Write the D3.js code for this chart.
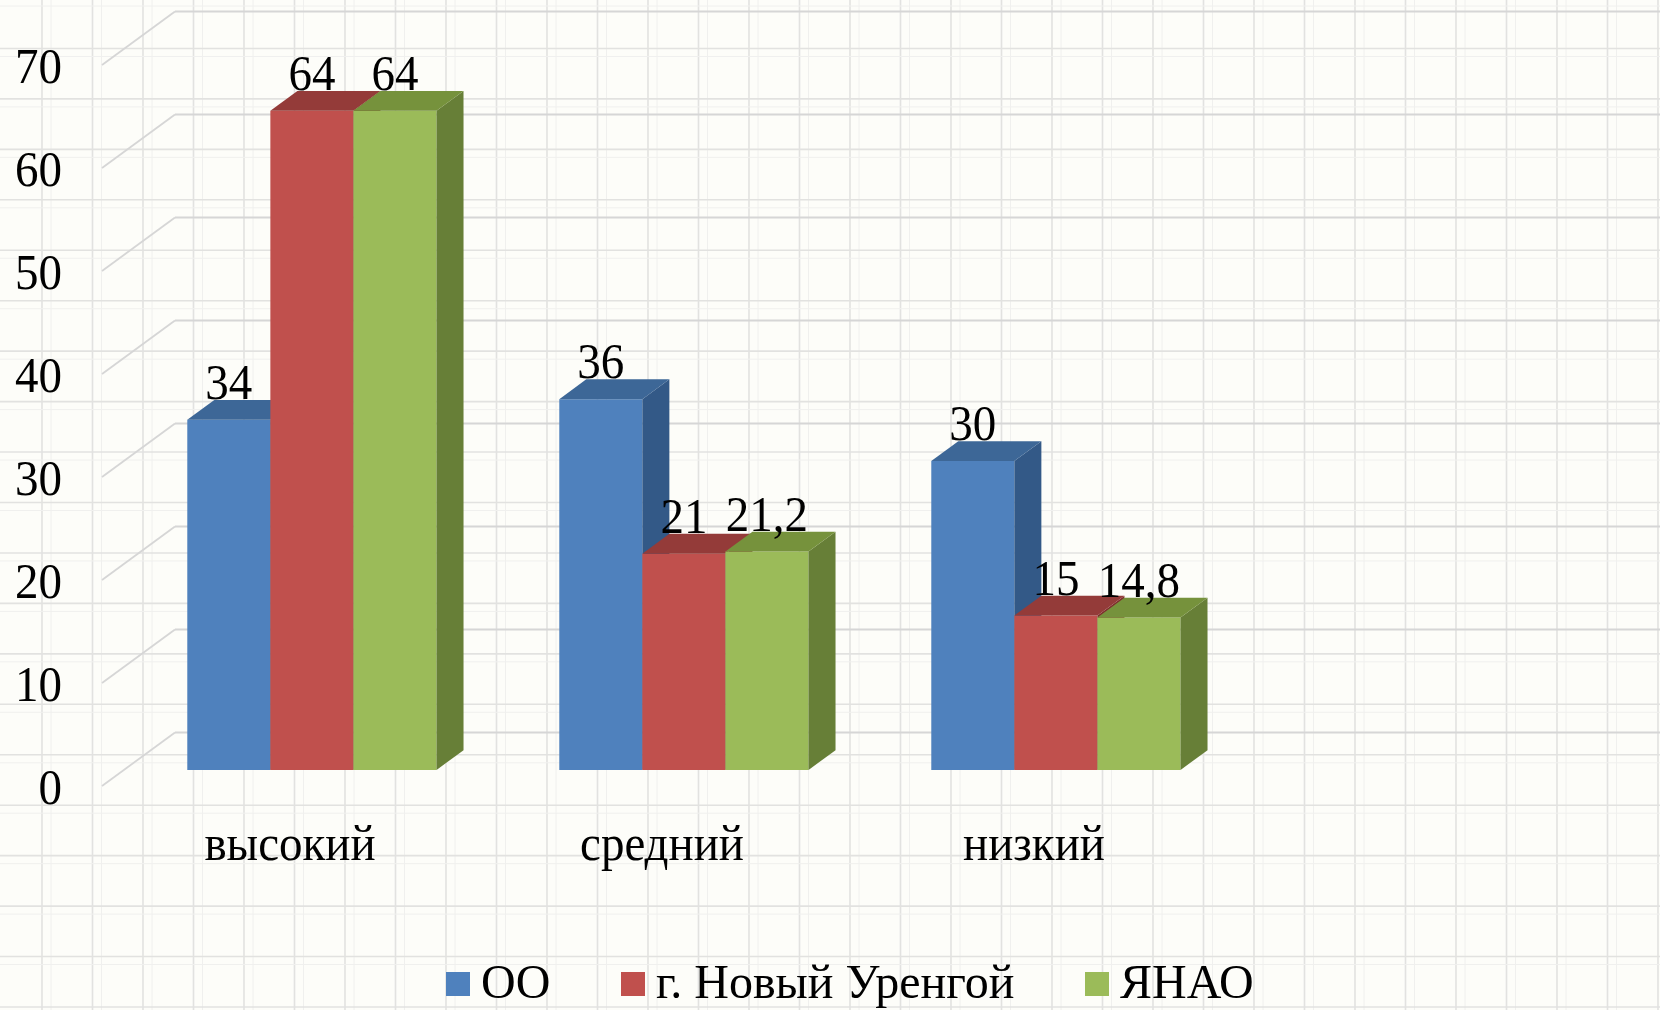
<!DOCTYPE html>
<html>
<head>
<meta charset="utf-8">
<script src="https://d3js.org/d3.v7.min.js"></script>
<style>
  body { margin: 0; background: #fdfdf9; }
  svg { display: block; }
  .lbl { font-family: "Liberation Serif", "Times New Roman", serif; font-size: 47px; fill: #000; }
  .leg { font-family: "Liberation Serif", "Times New Roman", serif; font-size: 48px; fill: #000; }
</style>
</head>
<body>
<script>
// data
var categories = ["высокий", "средний", "низкий"];
var seriesNames = ["ОО", "г. Новый Уренгой", "ЯНАО"];
var valuesOO = [34, 36, 30];
var valuesCity = [64, 21, 15];
var valuesYNAO = [64, 21.2, 14.8];
var yTicks = [0, 10, 20, 30, 40, 50, 60, 70];

var seriesValues = [valuesOO, valuesCity, valuesYNAO];
var frontColors = ["#4f81bd", "#c0504d", "#9bbb59"];
var topColors = ["#3d6797", "#943b39", "#76923c"];
var sideColors = ["#335987", "#7e2f2d", "#677f37"];

var W = 1660, H = 1010;
var svg = d3.select("body").append("svg")
  .attr("width", W)
  .attr("height", H);

svg.append("rect").attr("width", W).attr("height", H).attr("fill", "#fdfdf9");

// graph paper background
var bg = svg.append("g");
d3.range(42, W, 50.5).forEach(function(x) {
  bg.append("line").attr("x1", x).attr("x2", x).attr("y1", 0).attr("y2", H)
    .attr("stroke", "#e2e2e0").attr("stroke-width", 1.6);
  bg.append("line").attr("x1", x + 9).attr("x2", x + 9).attr("y1", 0).attr("y2", H)
    .attr("stroke", "#f0f0ee").attr("stroke-width", 1);
});
d3.range(-2, H + 2, 50.45).forEach(function(y) {
  bg.append("line").attr("x1", 0).attr("x2", W).attr("y1", y).attr("y2", y)
    .attr("stroke", "#e2e2e0").attr("stroke-width", 1.6);
  bg.append("line").attr("x1", 0).attr("x2", W).attr("y1", y + 8).attr("y2", y + 8)
    .attr("stroke", "#f0f0ee").attr("stroke-width", 1);
});

// oblique 3d projection
var depthX = 73, depthY = -53.5;
var d1 = 0.30, d2 = 0.67;
var floorX = 102;

var y = d3.scaleLinear().domain([0, 70]).range([786, 65]);
var x0 = d3.scaleBand().domain(categories).range([104, 104 + 372 * 3])
  .paddingInner(0.33).paddingOuter(0.165);
var x1 = d3.scaleBand().domain(seriesNames).range([0, x0.bandwidth()]);

function P(xf, v, d) {
  return [xf + depthX * d, y(v) + depthY * d];
}
function poly(pts) {
  return pts.map(function(p) { return p[0] + "," + p[1]; }).join(" ");
}
function fmt(v) { return String(v).replace(".", ","); }

// gridlines: side wall diagonal + back wall
var grid = svg.append("g");
yTicks.forEach(function(t) {
  var a = P(floorX, t, 0), b = P(floorX, t, 1);
  grid.append("line").attr("x1", a[0]).attr("y1", a[1]).attr("x2", b[0]).attr("y2", b[1])
    .attr("stroke", "#d6d6d6").attr("stroke-width", 1.8);
  grid.append("line").attr("x1", b[0]).attr("y1", b[1]).attr("x2", W).attr("y2", b[1])
    .attr("stroke", "#d6d6d6").attr("stroke-width", 2.2);
});

// y tick labels
svg.append("g").selectAll("text").data(yTicks).enter().append("text")
  .attr("class", "lbl")
  .attr("text-anchor", "end")
  .attr("transform", function(t) { return "translate(62," + (y(t) + 18) + ") scale(1,1.08)"; })
  .text(function(t) { return t; });

// bars
var bars = svg.append("g");
categories.forEach(function(c, ci) {
  seriesNames.forEach(function(s, si) {
    var v = seriesValues[si][ci];
    var xl = x0(c) + x1(s), xr = xl + x1.bandwidth();
    var g = bars.append("g");
    g.append("polygon")
      .attr("points", poly([P(xl, 0, d1), P(xr, 0, d1), P(xr, v, d1), P(xl, v, d1)]))
      .attr("fill", frontColors[si]);
    g.append("polygon")
      .attr("points", poly([P(xr, 0, d1), P(xr, 0, d2), P(xr, v, d2), P(xr, v, d1)]))
      .attr("fill", sideColors[si]);
    g.append("polygon")
      .attr("points", poly([P(xl, v, d1), P(xr, v, d1), P(xr, v, d2), P(xl, v, d2)]))
      .attr("fill", topColors[si]);
  });
});

// value labels
categories.forEach(function(c, ci) {
  seriesNames.forEach(function(s, si) {
    var v = seriesValues[si][ci];
    var cx = x0(c) + x1(s) + x1.bandwidth() / 2 + depthX * d1;
    var by = y(v) + depthY * d2 - 1;
    svg.append("text").attr("class", "lbl")
      .attr("text-anchor", "middle")
      .attr("transform", "translate(" + cx + "," + by + ") scale(1,1.08)")
      .text(fmt(v));
  });
});

// category labels
svg.append("g").selectAll("text").data(categories).enter().append("text")
  .attr("class", "lbl")
  .attr("text-anchor", "middle")
  .attr("transform", function(c) { return "translate(" + (x0(c) + x0.bandwidth() / 2) + ",860) scale(1,1.08)"; })
  .text(function(c) { return c; });

// legend
var legendX = [446, 621, 1085];
var legend = svg.append("g");
seriesNames.forEach(function(s, i) {
  legend.append("rect").attr("x", legendX[i]).attr("y", 972).attr("width", 24).attr("height", 24)
    .attr("fill", frontColors[i]);
  legend.append("text").attr("class", "leg")
    .attr("transform", "translate(" + (legendX[i] + 35) + ",998) scale(1,1.02)")
    .text(s);
});
</script>
</body>
</html>
